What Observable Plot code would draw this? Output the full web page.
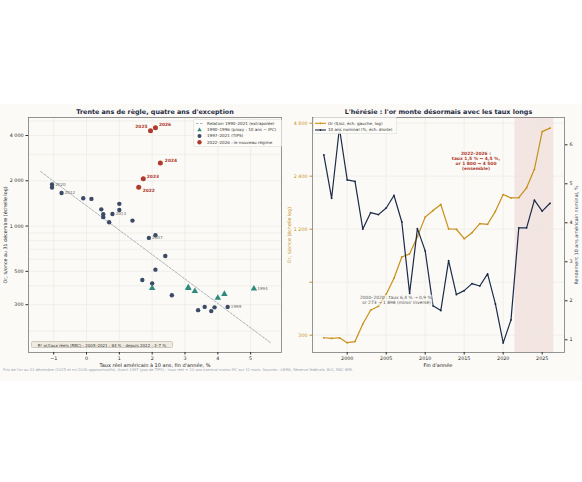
<!DOCTYPE html>
<html><head><meta charset="utf-8">
<script src="https://cdn.jsdelivr.net/npm/d3@7"></script>
<script src="https://cdn.jsdelivr.net/npm/@observablehq/plot@0.6"></script>
<style>
body{margin:0;background:#fff;font-family:"DejaVu Sans",sans-serif;}
#fig{position:absolute;left:0;top:104px;width:582px;height:277px;background:#fbfaf6;overflow:hidden;}
.abs{position:absolute;white-space:nowrap;line-height:1;}
.c{transform:translate(-50%,-50%);}
.title{font-weight:bold;font-size:6.4px;color:#1e2a44;}
.xl{font-size:5px;color:#222;}
.yl{font-size:4.8px;transform:translate(-50%,-50%) rotate(-90deg);}
#left,#right,#right2,#legL,#legR{position:absolute;}
</style></head><body>
<div id="fig">
  <div id="left" style="left:0;top:0"></div>
  <div id="right" style="left:290px;top:0"></div>
  <div id="right2" style="left:290px;top:0"></div>
  <div id="legL" style="left:193px;top:15px"></div>
  <div id="legR" style="left:313px;top:13px"></div>
</div>
<script>
// ---------------- data ----------------
const years = [1990,1991,1992,1993,1994,1995,1996,1997,1998,1999,2000,2001,2002,2003,2004,2005,2006,2007,2008,2009,2010,2011,2012,2013,2014,2015,2016,2017,2018,2019,2020,2021,2022,2023,2024,2025,2026];
const goldPrice = [386,353,333,390,383,387,369,290,288,290,272,276,347,416,438,513,632,834,869,1087,1405,1531,1657,1204,1199,1060,1146,1291,1279,1515,1888,1806,1812,2063,2625,4300,4500];
const realRate = [2.0,4.2,4.0,3.1,5.1,3.1,3.3,3.6,3.9,4.3,3.8,3.4,2.6,2.0,1.7,2.1,2.4,1.9,2.1,1.4,1.0,-0.1,-0.76,0.79,0.51,0.69,0.51,0.45,1.0,0.15,-1.05,-1.05,1.59,1.73,2.25,1.95,2.1];
const nominal10y = [null,null,null,null,null,null,null,5.74,4.63,6.43,5.1,5.06,3.84,4.26,4.21,4.38,4.7,4.02,2.19,3.85,3.28,1.87,1.75,3.03,2.16,2.26,2.44,2.38,2.69,1.92,0.92,1.51,3.87,3.87,4.58,4.30,4.5];
const labeledYears = [2020,2012,2013,2007,1999,1994];
const fitRange = [-1.4, 5.6];
const fitAtZero = 1365;      // fitted gold price at 0 % real rate
const fitSlope = -0.374;     // log-slope per point of real rate
const regimeSpan = [2021.5, 2026.5];
const xTicksLeft = [-1,0,1,2,3,4,5];
const yTicksLeft = [300,500,1000,2000,4000];
const yGridLeft = [200,300,400,500,600,700,800,900,1000,2000,3000,4000,5000];
const xTicksRight = [2000,2005,2010,2015,2020,2025];
const goldTicks = [300,600,1200,2400,4800];
const yieldTicks = [1,2,3,4,5,6];

// ---------------- derived tables ----------------
const all = years.map((year,i)=>({year, gold:goldPrice[i], rate:realRate[i], y10:nominal10y[i]}));
const proxy = all.filter(d=>d.year<=1996);
const tips = all.filter(d=>d.year>=1997 && d.year<=2021);
const regime = all.filter(d=>d.year>=2022);
const labeled = all.filter(d=>labeledYears.includes(d.year));
const fitLine = fitRange.map(x=>({x, y: fitAtZero*Math.exp(fitSlope*x)}));
const series = all.filter(d=>d.year>=1997);

// styles
const C = {gold:"#c8901a", navy:"#1c2b4a", slate:"#3b4a66", red:"#b03a2e", teal:"#2e8b7b", grid:"#e6e4df", frame:"#7a7a7a", text:"#2a2a2a"};
const regimeLabelPos = {2022:[4,3,"start"],2023:[3.5,-2.5,"start"],2024:[4.5,-2,"start"],2025:[-3,-4.5,"end"],2026:[3.5,-3.5,"start"]};
const minus = d => d<0 ? "\u2212"+(-d) : String(d);
const fmtSpace = d => d>=1000 ? d3.format(",")(d).replace(/,/g," ") : String(d);
const baseStyle = {background:"transparent", fontFamily:"DejaVu Sans", fontSize:"4.8px", color:C.text, overflow:"visible"};

// ---------------- left panel ----------------
const left = Plot.plot({
  width:290, height:276, marginTop:13, marginBottom:28, marginLeft:28, marginRight:9,
  style: baseStyle,
  x:{domain:[-1.767,5.94]},
  y:{type:"log", domain:[144.3,5270]},
  marks:[
    Plot.gridY(yGridLeft,{stroke:C.grid, strokeOpacity:1, strokeWidth:0.5}),
    Plot.gridX(xTicksLeft,{stroke:C.grid, strokeOpacity:1, strokeWidth:0.5}),
    Plot.frame({stroke:C.frame, strokeWidth:0.8}),
    Plot.axisX(xTicksLeft,{tickFormat:minus, tickSize:2.5, tickPadding:2, label:null}),
    Plot.axisY(yTicksLeft,{tickFormat:fmtSpace, tickSize:2.5, tickPadding:2.5, label:null}),
    Plot.line(fitLine,{x:"x", y:"y", stroke:"#8b93a7", strokeWidth:0.7, strokeDasharray:"2.5,1.5"}),
    Plot.dot(proxy,{x:"rate", y:"gold", symbol:"triangle", fill:C.teal, r:2.4}),
    Plot.dot(tips,{x:"rate", y:"gold", fill:C.slate, r:2.2}),
    Plot.dot(regime,{x:"rate", y:"gold", fill:C.red, r:2.5}),
    Plot.text(labeled,{x:"rate", y:"gold", text:d=>String(d.year), dx:3.2, textAnchor:"start", fill:"#666", fontSize:4.1}),
    ...regime.map(d=>Plot.text([d],{x:"rate", y:"gold", text:v=>String(v.year), dx:regimeLabelPos[d.year][0], dy:regimeLabelPos[d.year][1], textAnchor:regimeLabelPos[d.year][2], fill:C.red, fontSize:4.4, fontWeight:"bold"}))
  ]
});
document.getElementById("left").appendChild(left);

// ---------------- right panel (gold, log, left axis) ----------------
const right = Plot.plot({
  width:292, height:276, marginTop:13, marginBottom:28, marginLeft:22, marginRight:18,
  style: baseStyle,
  x:{domain:[1995.55,2027.86]},
  y:{type:"log", domain:[239.2,5171]},
  marks:[
    Plot.rect([regimeSpan],{x1:d=>d[0], x2:d=>d[1], fill:C.red, fillOpacity:0.1}),
    Plot.gridY(goldTicks,{stroke:C.grid, strokeOpacity:1, strokeWidth:0.5}),
    Plot.gridX(xTicksRight,{stroke:C.grid, strokeOpacity:1, strokeWidth:0.5}),
    Plot.frame({stroke:C.frame, strokeWidth:0.8}),
    Plot.axisX(xTicksRight,{tickFormat:d=>String(d), tickSize:2.5, tickPadding:2, label:null}),
    Plot.axisY(goldTicks,{tickFormat:fmtSpace, tickSize:2.5, tickPadding:2.5, label:null, color:C.gold, fill:C.gold}),
    Plot.line(series,{x:"year", y:"gold", stroke:C.gold, strokeWidth:1.2}),
    Plot.dot(series,{x:"year", y:"gold", fill:C.gold, r:0.9})
  ]
});
document.getElementById("right").appendChild(right);

// ---------------- right panel (10y nominal, right axis) ----------------
const right2 = Plot.plot({
  width:292, height:276, marginTop:13, marginBottom:28, marginLeft:22, marginRight:18,
  style: baseStyle,
  x:{domain:[1995.55,2027.86], axis:null},
  y:{domain:[0.674,6.70]},
  marks:[
    Plot.axisY(yieldTicks,{anchor:"right", tickSize:2.5, tickPadding:2.5, label:null}),
    Plot.line(series,{x:"year", y:"y10", stroke:C.navy, strokeWidth:1.2}),
    Plot.dot(series,{x:"year", y:"y10", fill:C.navy, r:0.9})
  ]
});
document.getElementById("right2").appendChild(right2);

// ---------------- legends ----------------
const svgNS = "http://www.w3.org/2000/svg";
function legend(el, w, h, rows){
  let s = `<svg xmlns="${svgNS}" width="${w}" height="${h}" style="font-family:DejaVu Sans;font-size:4.1px">`;
  s += `<rect x="0.3" y="0.3" width="${w-0.6}" height="${h-0.6}" rx="1.2" fill="#fdfcf9" fill-opacity="0.92" stroke="#cfcfcf" stroke-width="0.5"/>`;
  rows.forEach(r=>{ s += r.sym + `<text x="${r.tx}" y="${r.y}" dy="0.35em" fill="#333">${r.label}</text>`; });
  s += `</svg>`;
  document.getElementById(el).innerHTML = s;
}
legend("legL", 89, 28, [
  {y:4.5, tx:14, label:"Relation 1990–2021 (extrapolée)", sym:`<line x1="3" x2="10" y1="4.5" y2="4.5" stroke="#8b93a7" stroke-width="0.7" stroke-dasharray="2.5,1.5"/>`},
  {y:10.7, tx:14, label:"1990–1996 (proxy : 10 ans − IPC)", sym:`<path d="M6.5,8.4 L8.7,12.3 L4.3,12.3 Z" fill="${C.teal}"/>`},
  {y:16.9, tx:14, label:"1997–2021 (TIPS)", sym:`<circle cx="6.5" cy="16.9" r="2" fill="${C.slate}"/>`},
  {y:23.2, tx:14, label:"2022–2026 : le nouveau régime", sym:`<circle cx="6.5" cy="23.2" r="2.2" fill="${C.red}"/>`}
]);
legend("legR", 84, 17, [
  {y:6.3, tx:15, label:"Or ($/oz, éch. gauche, log)", sym:`<line x1="2" x2="13" y1="6.3" y2="6.3" stroke="${C.gold}" stroke-width="1.1"/><circle cx="7.5" cy="6.3" r="0.9" fill="${C.gold}"/>`},
  {y:13, tx:15, label:"10 ans nominal (%, éch. droite)", sym:`<line x1="2" x2="13" y1="13" y2="13" stroke="${C.navy}" stroke-width="1.1"/><circle cx="7.5" cy="13" r="0.9" fill="${C.navy}"/>`}
]);

// ---------------- texts ----------------
const fig = document.getElementById("fig");
function addText(html, css, cls){
  const d = document.createElement("div");
  d.className = "abs " + (cls||"");
  d.innerHTML = html;
  d.setAttribute("style", css);
  fig.appendChild(d);
}
addText("Trente ans de règle, quatre ans d'exception","left:155px;top:8px","c title");
addText("L'hérésie : l'or monte désormais avec les taux longs","left:438.5px;top:8px","c title");
addText("Taux réel américain à 10 ans, fin d'année, %","left:155px;top:261px","c xl");
addText("Fin d'année","left:438px;top:261px","c xl");
addText("Or, $/once au 31 décembre (échelle log)","left:6px;top:130.5px;color:#222","yl");
addText("Or, $/once (échelle log)","left:289.5px;top:130.5px;color:"+C.gold,"yl");
addText("Rendement 10 ans américain nominal, %","left:576.5px;top:130.5px;color:#3b4a66","yl");
addText("R² or/taux réels (RBC) : 2005–2021 : 84 % · depuis 2022 : 3–7 %","left:31px;top:236.5px;height:7.5px;width:142px;box-sizing:border-box;background:#efebe1;border:0.5px solid #cfcabd;border-radius:1.5px;font-size:4px;color:#333;text-align:center;line-height:7px;");
addText("2022–2026 :<br>taux 1,5 % → 4,5 %,<br>or 1 800 → 4 500<br>(ensemble)","left:476px;top:56.5px;font-size:4.4px;font-weight:bold;color:"+C.red+";text-align:center;line-height:5px","c");
addText("2000–2020 : taux 6,4 % → 0,9 %,<br>or 273 → 1 898 (miroir inversé)","left:396.5px;top:196px;font-size:4.4px;color:#555;text-align:center;line-height:5.3px;background:rgba(251,250,246,0.6)","c");
addText("Prix de l'or au 31 décembre (2025 et mi-2026 approximatifs). Avant 1997 (pas de TIPS) : taux réel = 10 ans nominal moins IPC sur 12 mois. Sources : LBMA, Réserve fédérale, BLS, RBC WM.","left:3px;top:264.8px;font-size:3.7px;color:#9aa3b5");
</script>
</body></html>
